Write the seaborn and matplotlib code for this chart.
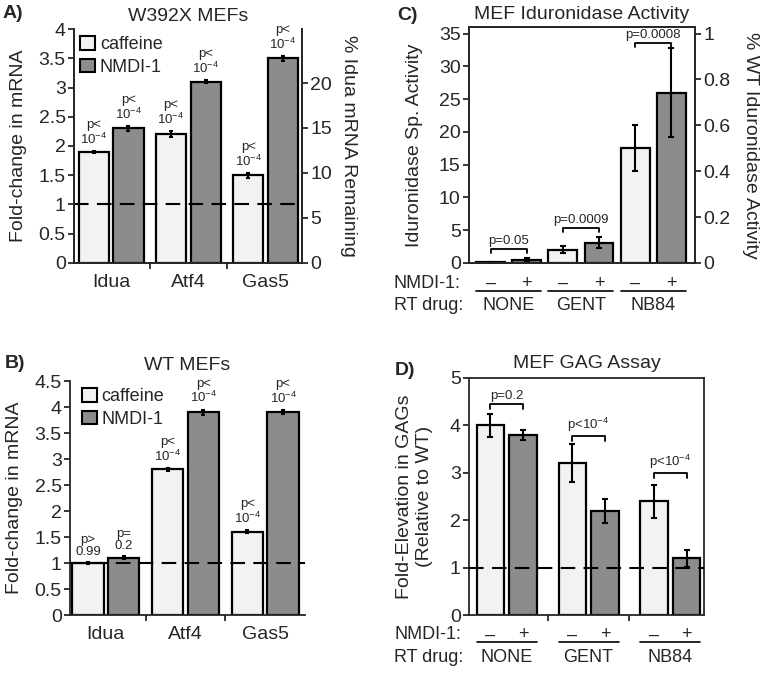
"""
Nonsense-suppression figure: fold-change bars (A, B), iduronidase activity (C)
and GAG assay (D) for MEFs treated with caffeine / NMDI-1 and RT drugs.
"""

import numpy as np
import pandas as pd
import matplotlib.pyplot as plt
import seaborn as sns
from matplotlib.patches import Patch

LIGHT = "#f2f2f2"
DARK  = "#8c8c8c"

# ── data ───────────────────────────────────────
genes      = ["Idua", "Atf4", "Gas5"]
treatments = ["caffeine", "NMDI-1"]

a_caffeine     = [1.9, 2.2, 1.5]
a_caffeine_err = [0.02, 0.05, 0.04]
a_nmdi         = [2.3, 3.1, 3.5]
a_nmdi_err     = [0.04, 0.03, 0.04]
a_p_caffeine   = ["p<\n10$^{-4}$", "p<\n10$^{-4}$", "p<\n10$^{-4}$"]
a_p_nmdi       = ["p<\n10$^{-4}$", "p<\n10$^{-4}$", "p<\n10$^{-4}$"]

b_caffeine     = [1.0, 2.8, 1.6]
b_caffeine_err = [0.01, 0.03, 0.03]
b_nmdi         = [1.1, 3.9, 3.9]
b_nmdi_err     = [0.03, 0.05, 0.04]
b_p_caffeine   = ["p>\n0.99", "p<\n10$^{-4}$", "p<\n10$^{-4}$"]
b_p_nmdi       = ["p=\n0.2", "p<\n10$^{-4}$", "p<\n10$^{-4}$"]

rt_drugs    = ["NONE", "GENT", "NB84"]
nmdi_levels = ["–", "+"]

c_minus     = [0.1, 2.0, 17.5]
c_minus_err = [0.05, 0.55, 3.5]
c_plus      = [0.5, 3.1, 26.0]
c_plus_err  = [0.3, 0.8, 6.8]
c_pvals     = ["p=0.05", "p=0.0009", "p=0.0008"]
c_bracket_y = [2.1, 5.3, 33.5]

d_minus     = [4.0, 3.2, 2.4]
d_minus_err = [0.25, 0.4, 0.35]
d_plus      = [3.8, 2.2, 1.2]
d_plus_err  = [0.1, 0.25, 0.18]
d_pvals     = ["p=0.2", "p<10$^{-4}$", "p<10$^{-4}$"]
d_bracket_y = [4.45, 3.78, 3.0]

# ── style ──────────────────────────────────────
sns.set_style("ticks")
plt.rcParams["font.family"] = ["Liberation Sans", "DejaVu Sans"]
plt.rcParams["mathtext.default"] = "regular"
plt.rcParams["axes.linewidth"] = 1.3
plt.rcParams["xtick.major.width"] = 1.3
plt.rcParams["ytick.major.width"] = 1.3
plt.rcParams["xtick.minor.width"] = 1.3

W, H = 765, 673
fig = plt.figure(figsize=(W / 100, H / 100), dpi=100)
DASH = (0, (7, 4))


def px_axes(left, top, right, bottom):
    return fig.add_axes([left / W, 1 - bottom / H, (right - left) / W, (bottom - top) / H])


def bars(ax, cats, first, second, hue_names, width, gap):
    df = pd.DataFrame({
        "cat": cats * 2,
        "value": list(first) + list(second),
        "hue": [hue_names[0]] * len(cats) + [hue_names[1]] * len(cats),
    })
    sns.barplot(data=df, x="cat", y="value", hue="hue", palette=[LIGHT, DARK],
                saturation=1, edgecolor="black", linewidth=1.6, width=width, gap=gap,
                errorbar=None, legend=False, ax=ax, zorder=2)
    centers = [[p.get_x() + p.get_width() / 2 for p in c] for c in ax.containers[:2]]
    edges = [(a.get_x(), b.get_x() + b.get_width())
             for a, b in zip(ax.containers[0], ax.containers[1])]
    return centers, edges


def errbars(ax, x, y, err, capsize):
    ax.errorbar(x, y, yerr=err, fmt="none", ecolor="black", elinewidth=1.5,
                capsize=capsize, capthick=1.5, zorder=3)


def base_axis(ax, ylabel):
    ax.set_xlabel("")
    ax.set_ylabel(ylabel, fontsize=14)
    ax.tick_params(axis="y", labelsize=14, length=4, pad=2, direction="out")
    ax.tick_params(axis="x", which="major", length=0, labelsize=14, pad=8)
    ax.set_xticks([0.5, 1.5], minor=True)
    ax.tick_params(axis="x", which="minor", length=4, direction="out")


def legend(ax, anchor):
    handles = [Patch(facecolor=LIGHT, edgecolor="black", linewidth=1.5),
               Patch(facecolor=DARK, edgecolor="black", linewidth=1.5)]
    ax.legend(handles, treatments, loc="upper left", bbox_to_anchor=anchor,
              frameon=False, fontsize=13, handlelength=0.85, handleheight=0.8,
              handletextpad=0.25, labelspacing=0.3, borderpad=0, borderaxespad=0)


def pval_labels(ax, x, tops, labels):
    for xi, yi, lab in zip(x, tops, labels):
        ax.annotate(lab, (xi, yi), xytext=(0, 3), textcoords="offset points",
                    ha="center", va="bottom", fontsize=9.5, linespacing=1.05)


def brackets(ax, x_left, x_right, ys, labels, drop):
    for x1, x2, y, lab in zip(x_left, x_right, ys, labels):
        ax.plot([x1, x1, x2, x2], [y - drop, y, y, y - drop], color="black", lw=1.3)
        ax.annotate(lab, ((x1 + x2) / 2, y), xytext=(0, 1.5), textcoords="offset points",
                    ha="center", va="bottom", fontsize=9.5)


def treatment_rows(ax, centers, edges, y_sign, y_line, y_drug, x_label):
    tr = ax.get_xaxis_transform()
    for x in centers[0]:
        ax.text(x, y_sign, nmdi_levels[0], transform=tr, ha="center", va="center", fontsize=13)
    for x in centers[1]:
        ax.text(x, y_sign, nmdi_levels[1], transform=tr, ha="center", va="center", fontsize=13)
    for (x1, x2), name in zip(edges, rt_drugs):
        ax.plot([x1, x2], [y_line, y_line], transform=tr, color="black", lw=1.2, clip_on=False)
        ax.text((x1 + x2) / 2, y_drug, name, transform=tr, ha="center", va="center", fontsize=13)
    ax.text(x_label, y_sign, "NMDI-1:", transform=ax.transAxes, ha="left", va="center", fontsize=13)
    ax.text(x_label, y_drug, "RT drug:", transform=ax.transAxes, ha="left", va="center", fontsize=13)


# ── A) W392X MEFs ──────────────────────────────
ax = px_axes(74, 29, 302, 263)
centers, _ = bars(ax, genes, a_caffeine, a_nmdi, treatments, 0.9, 0.13)
errbars(ax, centers[0], a_caffeine, a_caffeine_err, 1.5)
errbars(ax, centers[1], a_nmdi, a_nmdi_err, 1.5)
pval_labels(ax, centers[0], np.add(a_caffeine, a_caffeine_err), a_p_caffeine)
pval_labels(ax, centers[1], np.add(a_nmdi, a_nmdi_err), a_p_nmdi)
ax.axhline(1, color="black", lw=1.5, ls=DASH, zorder=4)
ax.set_xlim(-0.48, 2.47)
ax.set_ylim(0, 4)
ax.set_yticks([0, 0.5, 1, 1.5, 2, 2.5, 3, 3.5, 4], ["0", "0.5", "1", "1.5", "2", "2.5", "3", "3.5", "4"])
base_axis(ax, "Fold-change in mRNA")
ax.yaxis.set_label_coords(-0.205, 0.5)
ax.spines["top"].set_visible(False)
ax.set_title("W392X MEFs", fontsize=14, pad=6)
legend(ax, (0.026, 0.97))
ax2 = ax.twinx()
ax2.set_ylim(0, 26)
ax2.set_yticks([0, 5, 10, 15, 20])
ax2.tick_params(axis="y", labelsize=14, length=4, pad=2, direction="out")
ax2.set_ylabel("% Idua mRNA Remaining", fontsize=14, rotation=270, va="bottom")
ax2.yaxis.set_label_coords(1.165, 0.5)
ax2.spines["top"].set_visible(False)
fig.text(3 / W, 1 - 13 / H, "A)", fontsize=14, fontweight="bold", va="center")

# ── B) WT MEFs ─────────────────────────────────
ax = px_axes(70, 381, 305, 615)
centers, _ = bars(ax, genes, b_caffeine, b_nmdi, treatments, 0.9, 0.13)
errbars(ax, centers[0], b_caffeine, b_caffeine_err, 1.5)
errbars(ax, centers[1], b_nmdi, b_nmdi_err, 1.5)
pval_labels(ax, centers[0], np.add(b_caffeine, b_caffeine_err), b_p_caffeine)
pval_labels(ax, centers[1], np.add(b_nmdi, b_nmdi_err), b_p_nmdi)
ax.axhline(1, color="black", lw=1.5, ls=DASH, zorder=4)
ax.set_xlim(-0.45, 2.5)
ax.set_ylim(0, 4.5)
ax.set_yticks(np.arange(0, 4.6, 0.5), ["0", "0.5", "1", "1.5", "2", "2.5", "3", "3.5", "4", "4.5"])
base_axis(ax, "Fold-change in mRNA")
ax.yaxis.set_label_coords(-0.2, 0.5)
sns.despine(ax=ax)
ax.set_title("WT MEFs", fontsize=14, pad=8)
legend(ax, (0.05, 0.97))
fig.text(5 / W, 1 - 363 / H, "B)", fontsize=14, fontweight="bold", va="center")

# ── C) MEF Iduronidase Activity ────────────────
ax = px_axes(469, 27, 695, 263)
centers, edges = bars(ax, rt_drugs, c_minus, c_plus, nmdi_levels, 1.0, 0.2)
errbars(ax, centers[0], c_minus, c_minus_err, 2.5)
errbars(ax, centers[1], c_plus, c_plus_err, 2.5)
brackets(ax, centers[0], centers[1], c_bracket_y, c_pvals, 0.5)
ax.set_xlim(-0.55, 2.58)
ax.set_ylim(0, 36)
ax.set_yticks([0, 5, 10, 15, 20, 25, 30, 35])
base_axis(ax, "Iduronidase Sp. Activity")
ax.set_xticks([])
ax.set_xticks([], minor=True)
ax.yaxis.set_label_coords(-0.205, 0.5)
ax.set_title("MEF Iduronidase Activity", fontsize=14, pad=6)
treatment_rows(ax, centers, edges, -0.085, -0.117, -0.178, -0.332)
ax2 = ax.twinx()
ax2.set_ylim(0, 36 / 35)
ax2.set_yticks([0, 0.2, 0.4, 0.6, 0.8, 1], ["0", "0.2", "0.4", "0.6", "0.8", "1"])
ax2.tick_params(axis="y", labelsize=14, length=4, pad=2, direction="out")
ax2.set_ylabel("% WT Iduronidase Activity", fontsize=14, rotation=270, va="bottom")
ax2.yaxis.set_label_coords(1.21, 0.5)
fig.text(397 / W, 1 - 15 / H, "C)", fontsize=14, fontweight="bold", va="center")

# ── D) MEF GAG Assay ───────────────────────────
ax = px_axes(469, 378, 704, 615)
centers, edges = bars(ax, rt_drugs, d_minus, d_plus, nmdi_levels, 0.8, 0.17)
errbars(ax, centers[0], d_minus, d_minus_err, 2.5)
errbars(ax, centers[1], d_plus, d_plus_err, 2.5)
brackets(ax, centers[0], centers[1], d_bracket_y, d_pvals, 0.1)
ax.axhline(1, color="black", lw=1.5, ls=DASH, zorder=4)
ax.set_xlim(-0.46, 2.41)
ax.set_ylim(0, 5)
ax.set_yticks([0, 1, 2, 3, 4, 5])
base_axis(ax, "Fold-Elevation in GAGs\n(Relative to WT)")
ax.set_xticks([0, 1, 2], ["", "", ""])
ax.yaxis.set_label_coords(-0.153, 0.5)
ax.set_title("MEF GAG Assay", fontsize=14, pad=7)
treatment_rows(ax, centers, edges, -0.084, -0.114, -0.181, -0.319)
fig.text(395 / W, 1 - 370 / H, "D)", fontsize=14, fontweight="bold", va="center")

fig.savefig("out.png", dpi=100)
plt.close(fig)
